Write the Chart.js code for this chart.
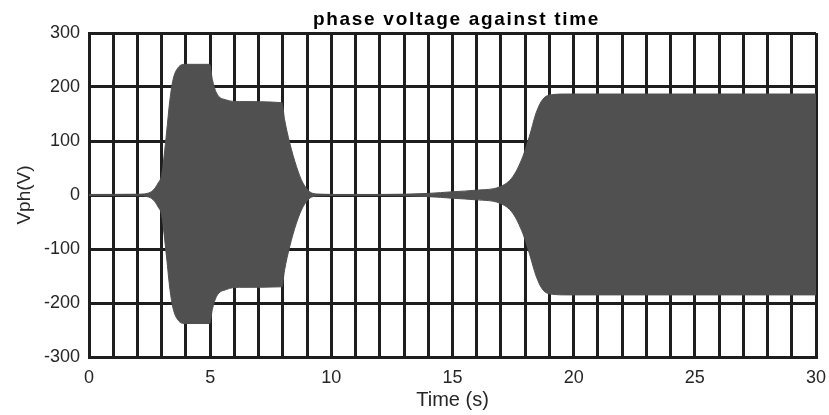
<!DOCTYPE html>
<html>
<head>
  <title>phase voltage against time</title>
  <script src="https://cdn.jsdelivr.net/npm/chart.js"></script>
  <style>
    body { margin: 0; background: #fff; }
    #wrap { width: 829px; height: 415px; }
</style>
</head>
<body>
  <div id="wrap">
    <canvas id="myChart" width="829" height="415"></canvas>
  </div>

  <script>
    // envelope of the phase voltage
    const timeValues = [0, 2, 2.4, 2.65, 2.85, 3.0, 3.2, 3.34, 3.47, 3.68, 3.96, 4.98, 5.09, 5.26, 5.67, 6.2, 7.96, 8.07, 8.28, 8.56, 8.83, 9.24, 9.65, 10, 12, 14, 15, 16, 16.94, 17.49, 17.9, 18.17, 18.45, 18.72, 19.13, 19.7, 30];
    const upperValues = [1, 1.5, 3, 9, 22, 38, 115, 177, 214, 236, 242, 242, 214, 189, 176, 173, 171, 140, 97, 53, 22, 3, 1.5, 1, 1, 3, 6, 9, 15, 34, 71, 108, 152, 177, 186, 187, 187];
    const lowerValues = [-1, -1.5, -3, -9, -22, -38, -115, -175, -210, -232, -238, -238, -212, -188, -175, -171, -170, -139, -96, -52, -22, -3, -1.5, -1, -1, -3, -6, -9, -15, -34, -71, -108, -150, -175, -184, -185, -185];

    const xTickLabels = [0, 5, 10, 15, 20, 25, 30];
    const yTickLabels = [-300, -200, -100, 0, 100, 200, 300];
    const chartTitle = 'phase voltage against time';

    const gridColor = '#1e1e1e';
    const fillColor = '#505050';

    const upperPts = timeValues.map((t, i) => ({ x: t, y: upperValues[i] }));
    const lowerPts = timeValues.map((t, i) => ({ x: t, y: lowerValues[i] }));

    // title centred over the plot area (the built-in one centres on the canvas)
    const plotTitle = {
      id: 'plotTitle',
      afterDraw(chart) {
        const c = chart.ctx, a = chart.chartArea;
        c.save();
        c.font = 'bold 19px "Liberation Sans", Arial';
        c.letterSpacing = '1.7px';
        c.fillStyle = '#000';
        c.textAlign = 'center';
        c.textBaseline = 'alphabetic';
        c.fillText(chartTitle, (a.left + a.right) / 2 + 4, 25);
        c.restore();
      }
    };

    const ctx = document.getElementById('myChart').getContext('2d');
    const myChart = new Chart(ctx, {
      type: 'line',
      data: {
        datasets: [{
          label: 'upper',
          data: upperPts,
          borderColor: fillColor,
          backgroundColor: fillColor,
          borderWidth: 1,
          pointRadius: 0,
          fill: '+1',
          cubicInterpolationMode: 'monotone'
        }, {
          label: 'lower',
          data: lowerPts,
          borderColor: fillColor,
          backgroundColor: fillColor,
          borderWidth: 1,
          pointRadius: 0,
          fill: false,
          cubicInterpolationMode: 'monotone'
        }]
      },
      plugins: [plotTitle],
      options: {
        responsive: false,
        animation: false,
        layout: { padding: { left: 0, right: 13, top: 33, bottom: 0 } },
        plugins: {
          legend: { display: false },
          tooltip: { enabled: false },
          title: { display: false }
        },
        scales: {
          x: {
            type: 'linear',
            min: 0,
            max: 30,
            afterFit: s => { s.height = 58; s.paddingRight = 0; s.paddingLeft = 0; },
            grid: { color: gridColor, lineWidth: 3, drawTicks: false },
            border: { color: gridColor, width: 3 },
            ticks: {
              stepSize: 1,
              padding: 10,
              color: '#262626',
              maxRotation: 0,
              autoSkip: false,
              font: { family: 'Liberation Sans, Arial', size: 18 },
              callback: v => xTickLabels.includes(v) ? String(v) : ''
            },
            title: {
              display: true,
              text: 'Time (s)',
              color: '#262626',
              font: { family: 'Liberation Sans, Arial', size: 20 },
              padding: { top: 0, bottom: 3 }
            }
          },
          y: {
            min: -300,
            max: 300,
            afterFit: s => { s.width = 89; },
            grid: { color: gridColor, lineWidth: 3, drawTicks: false },
            border: { color: gridColor, width: 3 },
            ticks: {
              stepSize: 100,
              padding: 9,
              color: '#262626',
              font: { family: 'Liberation Sans, Arial', size: 18 },
              callback: v => yTickLabels.includes(v) ? String(v) : ''
            },
            title: {
              display: true,
              text: 'Vph(V)',
              color: '#262626',
              font: { family: 'Liberation Sans, Arial', size: 19 },
              padding: { top: 13, bottom: 0 }
            }
          }
        }
      }
    });
  </script>
</body>
</html>
